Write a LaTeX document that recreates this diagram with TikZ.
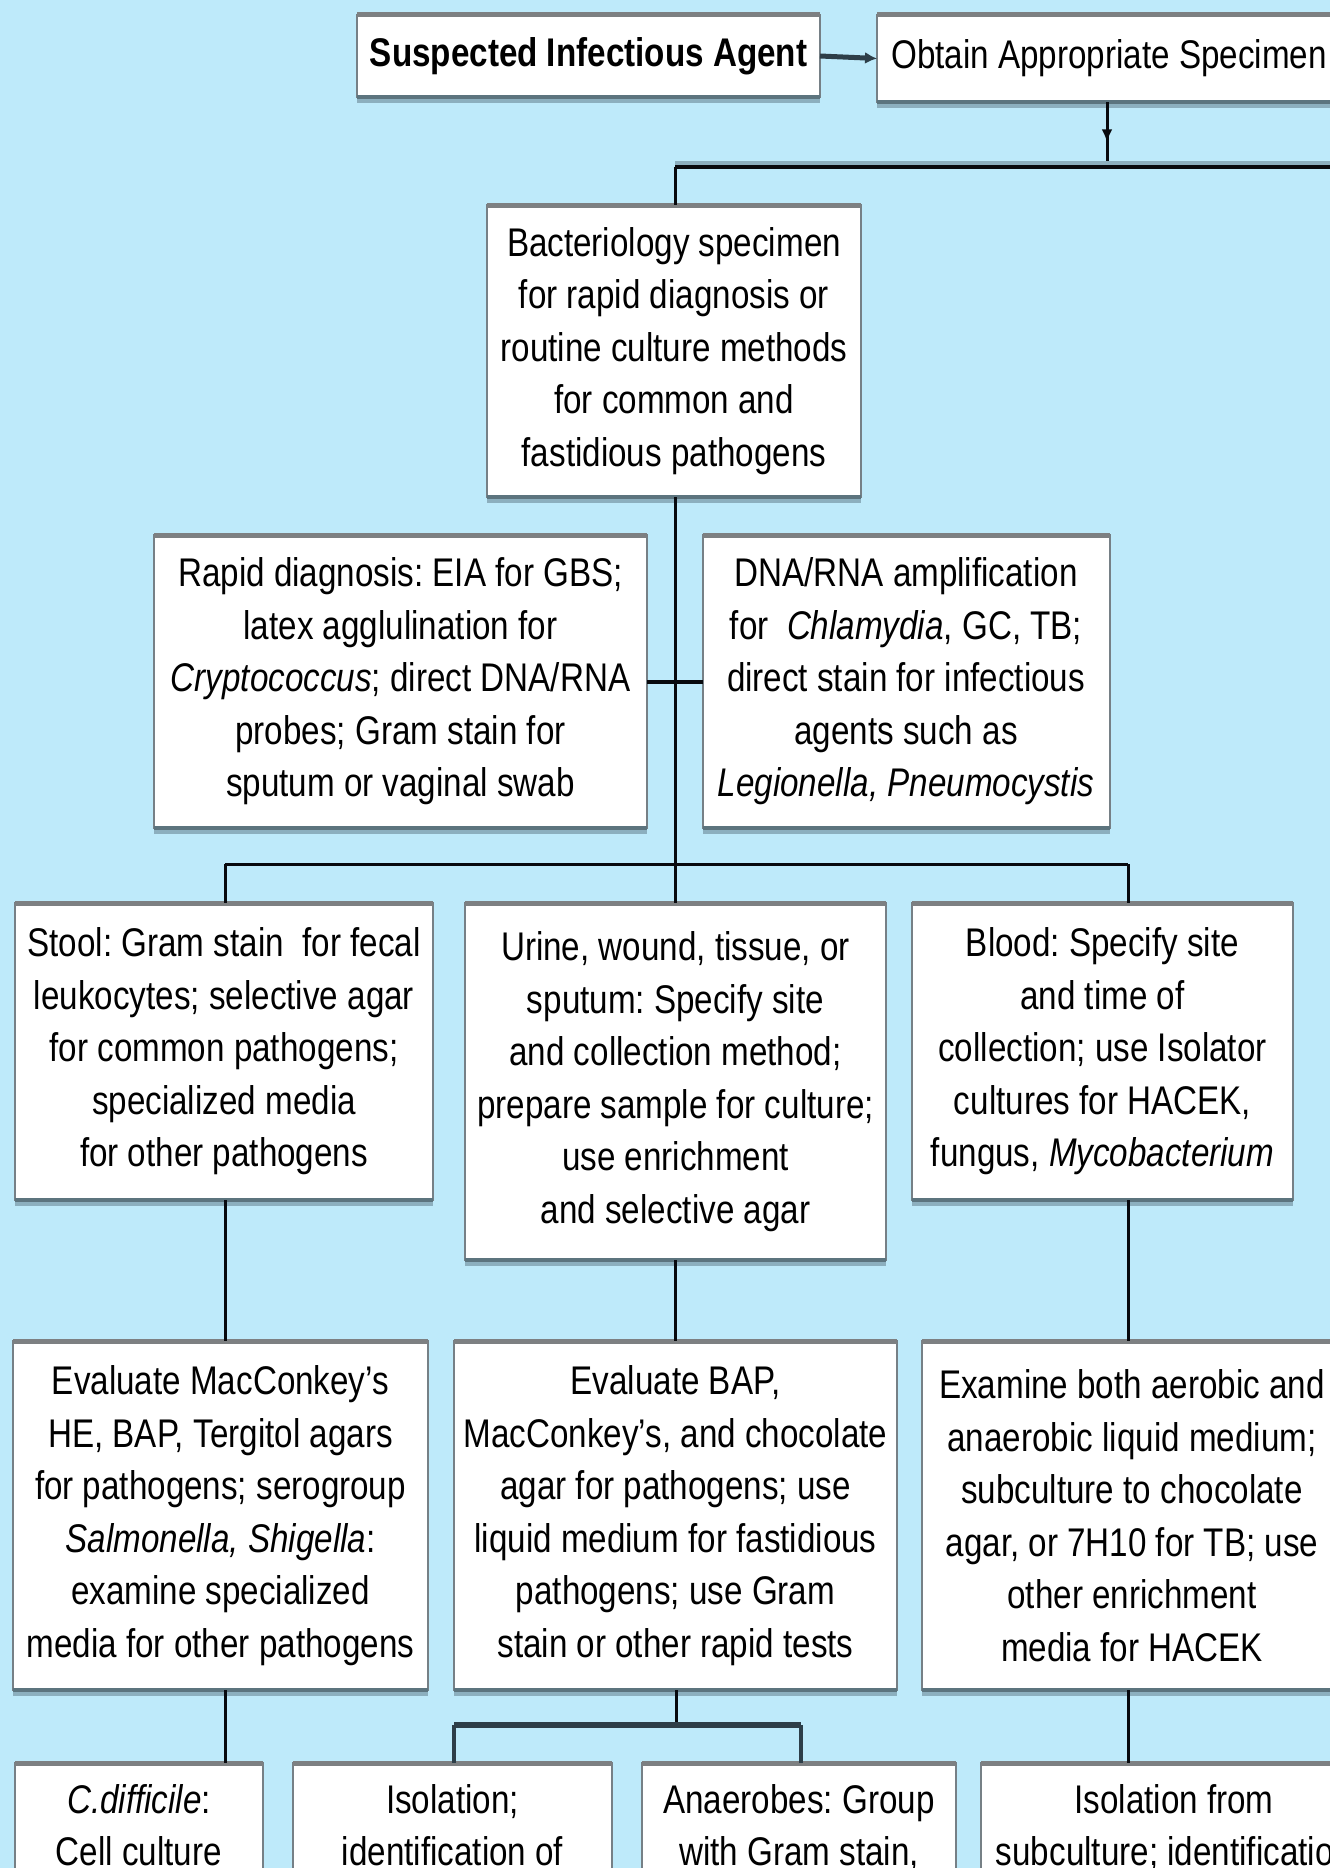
\documentclass[tikz,border=0pt]{standalone}
\usepackage{fontspec}
\setmainfont{Liberation Sans}[FakeStretch=0.83]
\usetikzlibrary{arrows.meta,decorations.markings}
\definecolor{bg}{RGB}{190,234,250}
\definecolor{topgray}{RGB}{125,128,130}
\definecolor{botgray}{RGB}{92,116,126}
\definecolor{sidegray}{RGB}{118,128,134}
\definecolor{shadowcol}{RGB}{140,175,190}
\definecolor{linecol}{RGB}{8,10,14}
\definecolor{slate}{RGB}{45,62,72}
\newcommand\boxfont{\fontsize{40}{52.5}\selectfont\frenchspacing}
\frenchspacing
\begin{document}
\begin{tikzpicture}[x=1pt,y=-1pt,
  box/.style={draw=sidegray, line width=2pt, fill=white, outer sep=0pt,
    inner sep=0pt, align=center, font=\boxfont},
  topbox/.style={box, anchor=north, inner ysep=21pt},
  conn/.style={draw=linecol, line width=3pt},
  midarrow/.style={conn, decoration={markings, mark=at position 0.62 with
    {\arrow{Latex[length=13pt,width=11pt]}}}, postaction={decorate}}]
\useasboundingbox (0,0) rectangle (1330,1868);
\fill[bg] (0,0) rectangle (1330,1868);
\clip (0,0) rectangle (1330,1868);

% junction coordinates
\coordinate (j0) at (1107,167);
\coordinate (jb) at (675,167);
\coordinate (jr) at (1345,167);
\coordinate (j2) at (675,864);
\coordinate (jl) at (225,864);
\coordinate (jr2) at (1128,864);
\coordinate (j3) at (676,1725);
\coordinate (j3l) at (454,1725);
\coordinate (j3r) at (801,1725);

% nodes
\node[box, minimum width=463pt, minimum height=82pt] (sus) at (588.5,56)
  {\textbf{Suspected Infectious Agent}};
\node[box, minimum width=464pt, minimum height=87pt] (obt) at (1109,58.5)
  {Obtain Appropriate Specimen};
\node[box, minimum width=374pt, minimum height=292pt] (bac) at (674,351)
  {Bacteriology specimen\\for rapid diagnosis or\\routine culture methods\\for common and\\fastidious pathogens};
\node[box, minimum width=493pt, minimum height=293pt] (rapid) at (400.5,681.5)
  {Rapid diagnosis: EIA for GBS;\\latex agglulination for\\\textit{Cryptococcus}; direct DNA/RNA\\probes; Gram stain for\\sputum or vaginal swab};
\node[box, minimum width=407pt, minimum height=293pt] (dna) at (906,681.5)
  {DNA/RNA amplification\\for\ \ \textit{Chlamydia}, GC, TB;\\direct stain for infectious\\agents such as\\\textit{Legionella, Pneumocystis}};
\node[box, minimum width=418pt, minimum height=297pt] (stool) at (224,1051.5)
  {Stool: Gram stain\ \ for fecal\\leukocytes; selective agar\\for common pathogens;\\specialized media\\for other pathogens};
\node[box, minimum width=421pt, minimum height=357pt] (urine) at (675.5,1081.5)
  {Urine, wound, tissue, or\\sputum: Specify site\\and collection method;\\prepare sample for culture;\\use enrichment\\and selective agar};
\node[box, minimum width=381pt, minimum height=297pt] (blood) at (1102.5,1051.5)
  {Blood: Specify site\\and time of\\collection; use Isolator\\cultures for HACEK,\\fungus, \textit{Mycobacterium}};
\node[box, minimum width=415pt, minimum height=349pt] (emac) at (220.5,1515.5)
  {Evaluate MacConkey's\\HE, BAP, Tergitol agars\\for pathogens; serogroup\\\textit{Salmonella, Shigella}:\\examine specialized\\media for other pathogens};
\node[box, minimum width=443pt, minimum height=349pt] (ebap) at (675.5,1515.5)
  {Evaluate BAP,\\MacConkey's, and chocolate\\agar for pathogens; use\\liquid medium for fastidious\\pathogens; use Gram\\stain or other rapid tests};
\node[box, minimum width=420pt, minimum height=349pt] (exam) at (1132,1515.5)
  {Examine both aerobic and\\anaerobic liquid medium;\\subculture to chocolate\\agar, or 7H10 for TB; use\\other enrichment\\media for HACEK};
\node[topbox, minimum width=248pt] (cdiff) at (139,1763)
  {\parbox[t][150pt][t]{248pt}{\centering\textit{C.difficile}:\\Cell culture}};
\node[topbox, minimum width=319pt] (iso) at (452.5,1763)
  {\parbox[t][150pt][t]{319pt}{\centering Isolation;\\identification of}};
\node[topbox, minimum width=314pt] (anae) at (799,1763)
  {\parbox[t][150pt][t]{314pt}{\centering Anaerobes: Group\\with Gram stain,}};
\node[topbox, minimum width=386pt] (isosub) at (1174,1763)
  {\parbox[t][150pt][t]{386pt}{\centering Isolation from\\subculture; identification}};

% box edges (thick top, shaded bottom)
\foreach \n in {sus,obt,bac,rapid,dna,stool,urine,blood,emac,ebap,exam,cdiff,iso,anae,isosub}{
  \draw[shadowcol, line width=4pt] ([yshift=-4pt]\n.south west) -- ([yshift=-4pt]\n.south east);
  \draw[topgray, line width=5pt] (\n.north west) -- (\n.north east);
  \draw[botgray, line width=4pt] (\n.south west) -- (\n.south east);
}

% connectors
\draw[draw=slate, line width=5pt, -{Latex[length=12pt,width=12pt]}] (sus.east) -- (obt.west);
\draw[midarrow] (obt.south -| j0) -- (j0);
\draw[shadowcol, line width=4pt] ([yshift=4pt]jb) -- ([yshift=4pt]jr);
\draw[conn, line width=4pt] (jb) -- (jr);
\draw[conn] (jb) -- (jb |- bac.north);
\draw[conn] (bac.south -| j2) -- (j2);
\draw[conn, line width=4pt] (rapid.east) -- (dna.west);
\draw[conn] (jl) -- (jr2);
\draw[conn] (jl) -- (jl |- stool.north);
\draw[conn] (j2) -- (j2 |- urine.north);
\draw[conn] (jr2) -- (jr2 |- blood.north);
\draw[conn] (stool.south -| jl) -- (emac.north -| jl);
\draw[conn] (urine.south -| j2) -- (ebap.north -| j2);
\draw[conn] (blood.south -| jr2) -- (exam.north -| jr2);
\draw[conn] (emac.south -| jl) -- (cdiff.north -| jl);
\draw[conn] (ebap.south -| j3) -- (j3);
\draw[draw=slate, line width=6pt] (j3l) -- (j3r);
\draw[draw=slate, line width=3.5pt] (j3l) -- (iso.north -| j3l);
\draw[draw=slate, line width=3.5pt] (j3r) -- (anae.north -| j3r);
\draw[conn] (exam.south -| jr2) -- (isosub.north -| jr2);
\end{tikzpicture}
\end{document}
